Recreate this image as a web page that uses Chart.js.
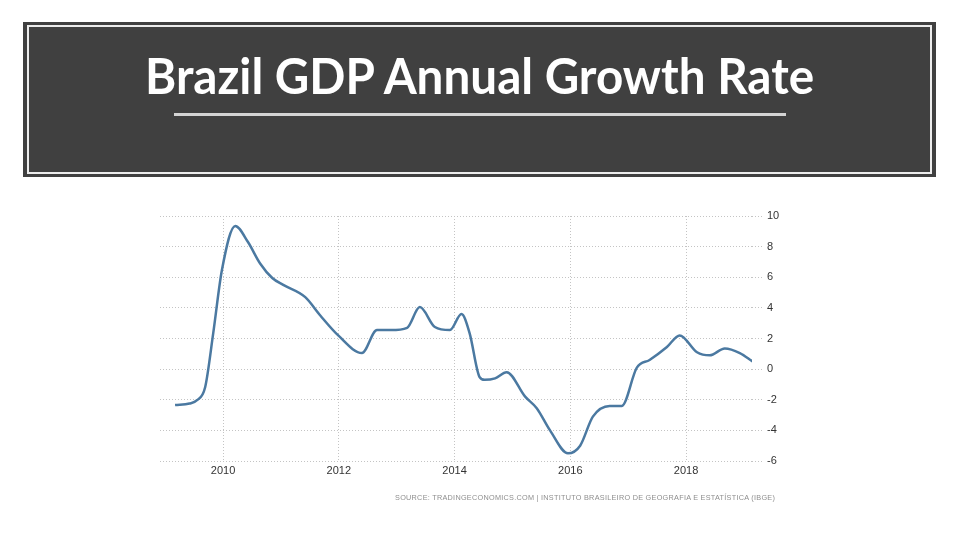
<!DOCTYPE html>
<html>
<head>
<meta charset="utf-8">
<script src="https://cdn.jsdelivr.net/npm/chart.js@4.4.1/dist/chart.umd.min.js"></script>
<style>
  html, body { margin: 0; padding: 0; background: #ffffff; }
  #wrap { position: relative; width: 960px; height: 540px; overflow: hidden; }
  #hdr { position: absolute; left: 23px; top: 22px; width: 913px; height: 155px; background: #404040; }
  #hdrIn { position: absolute; left: 27px; top: 25px; width: 901px; height: 145px; border: 2px solid #ececec; }
  #title { position: absolute; left: 0; top: 50px; width: 960px; text-align: center; color: #ffffff;
           font-family: Lato, "Open Sans", sans-serif; font-weight: 700; font-size: 50px; line-height: 50px; white-space: nowrap; }
  #title span { display: inline-block; transform-origin: 50% 50%; }
  #uline { position: absolute; left: 174px; top: 113px; width: 612px; height: 3px; background: #d4d4d4; }
  #src { position: absolute; right: 185px; top: 493px; color: #8e8e8e; white-space: nowrap;
         font-family: "Liberation Sans", Arial, sans-serif; font-size: 8px; line-height: 10px; letter-spacing: 0.3px; }
  #src span { display: inline-block; transform-origin: 100% 50%; }
  canvas { position: absolute; left: 0; top: 0; }
</style>
</head>
<body>
<div id="wrap">
  <div id="hdr"></div>
  <div id="hdrIn"></div>
  <div id="title"><span id="titleText">Brazil GDP Annual Growth Rate</span></div>
  <div id="uline"></div>
  <canvas id="c" width="960" height="540"></canvas>
  <div id="src"><span id="srcText">SOURCE: TRADINGECONOMICS.COM | INSTITUTO BRASILEIRO DE GEOGRAFIA E ESTATÍSTICA (IBGE)</span></div>
</div>
<script>
// ---- data ----
const years = [2009.17, 2009.42, 2009.55, 2009.69, 2009.83, 2009.98, 2010.21, 2010.43, 2010.64, 2010.85,
               2011.04, 2011.42, 2011.68, 2011.99, 2012.4, 2012.66, 2012.9, 2013.18, 2013.4, 2013.66,
               2013.92, 2014.12, 2014.26, 2014.43, 2014.52, 2014.7, 2014.9, 2015.22, 2015.42, 2015.65,
               2015.96, 2016.17, 2016.39, 2016.68, 2016.89, 2017.15, 2017.37, 2017.67, 2017.89, 2018.19,
               2018.41, 2018.67, 2018.93, 2019.15];
const growth = [-2.35, -2.25, -2.03, -1.18, 2.35, 6.47, 9.35, 8.3, 6.9, 5.95,
                5.5, 4.7, 3.5, 2.2, 1.05, 2.55, 2.55, 2.7, 4.05, 2.75,
                2.55, 3.6, 2.35, -0.5, -0.7, -0.6, -0.2, -1.8, -2.55, -4.0,
                -5.5, -5.0, -3.1, -2.4, -2.4, 0.1, 0.6, 1.45, 2.2, 1.1,
                0.9, 1.35, 1.05, 0.5];
const xTickYears = [2010, 2012, 2014, 2016, 2018];
const yTickValues = [-6, -4, -2, 0, 2, 4, 6, 8, 10];

// fit title & source widths to the reference (offsetWidth ignores transforms)
function fit(id, target) {
  const el = document.getElementById(id);
  const w = el.offsetWidth;
  el.style.transform = 'scaleX(' + (target / w) + ')';
}
function fitAll() { fit('titleText', 669); fit('srcText', 380); }
fitAll();
document.fonts.ready.then(fitAll);

const gridColor = '#c4c4c4';
new Chart(document.getElementById('c'), {
  type: 'line',
  data: {
    datasets: [{
      data: years.map((x, i) => ({ x: x, y: growth[i] })),
      borderColor: '#4b79a1',
      borderWidth: 2.5,
      pointRadius: 0,
      fill: false,
      cubicInterpolationMode: 'monotone'
    }]
  },
  options: {
    responsive: false,
    animation: false,
    layout: { padding: { left: 160, top: 216, right: 168, bottom: 54 } },
    plugins: { legend: { display: false }, tooltip: { enabled: false } },
    scales: {
      x: {
        type: 'linear',
        min: 2008.91,
        max: 2019.14,
        afterBuildTicks: s => { s.ticks = xTickYears.map(v => ({ value: v })); },
        afterFit: s => { s.height = 25; },
        grid: { color: gridColor, lineWidth: 1, drawTicks: false },
        border: { display: false, dash: [1, 2] },
        ticks: { padding: 3, color: '#333333', font: { family: 'Liberation Sans', size: 11 }, maxRotation: 0,
                 callback: v => String(v) }
      },
      y: {
        position: 'right',
        min: -6,
        max: 10,
        afterBuildTicks: s => { s.ticks = yTickValues.map(v => ({ value: v })); },
        afterFit: s => { s.width = 40; },
        grid: { color: gridColor, lineWidth: 1, drawTicks: true, tickLength: 12,
                tickColor: gridColor, tickBorderDash: [1, 2] },
        border: { display: false, dash: [1, 2] },
        ticks: { padding: 3, color: '#333333', font: { family: 'Liberation Sans', size: 11 } }
      }
    }
  }
});
</script>
</body>
</html>
